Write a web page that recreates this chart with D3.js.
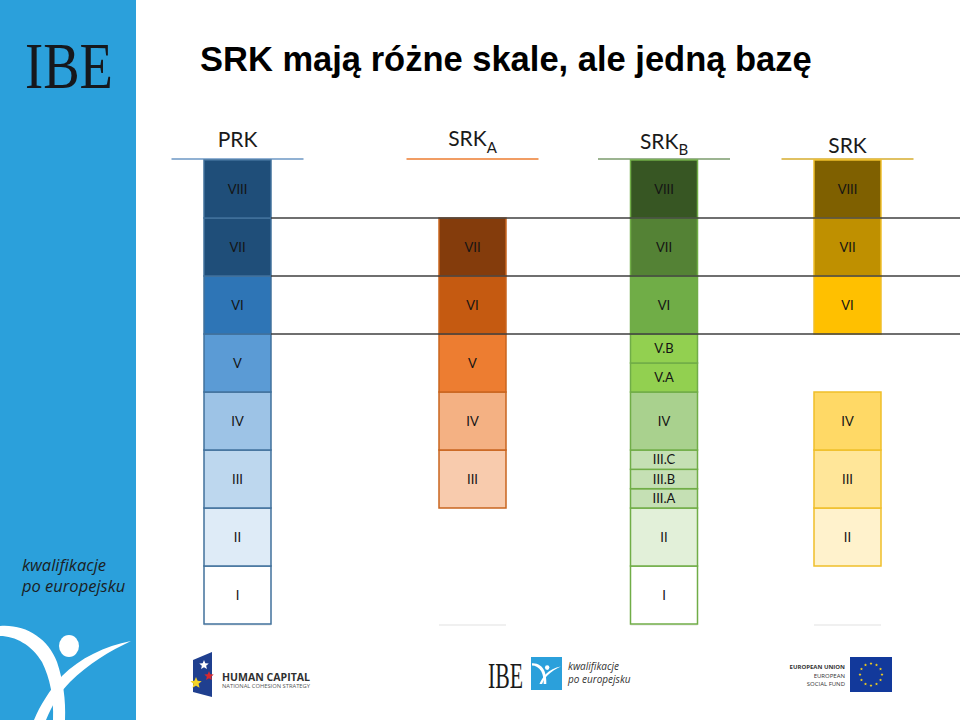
<!DOCTYPE html>
<html lang="pl">
<head>
<meta charset="UTF-8" />
<title>SRK mają różne skale, ale jedną bazę</title>
<script src="https://cdnjs.cloudflare.com/ajax/libs/d3/7.8.5/d3.min.js"></script>
<style>
  body { margin: 0; background: #fff; }
  svg { display: block; }
</style>
</head>
<body>
<div id="chart"></div>
<script>
// ---------------- data ----------------
var frameworks = ["PRK", "SRK_A", "SRK_B", "SRK"];
var headerMain = ["PRK", "SRK", "SRK", "SRK"];
var headerSub = ["", "A", "B", ""];

// each segment: label, lower level bound, upper level bound (level I = 0..1)
var prkLabels = ["I", "II", "III", "IV", "V", "VI", "VII", "VIII"];
var prkLow = [0, 1, 2, 3, 4, 5, 6, 7];
var prkHigh = [1, 2, 3, 4, 5, 6, 7, 8];

var srkALabels = ["III", "IV", "V", "VI", "VII"];
var srkALow = [2, 3, 4, 5, 6];
var srkAHigh = [3, 4, 5, 6, 7];

var srkBLabels = ["I", "II", "III.A", "III.B", "III.C", "IV", "V.A", "V.B", "VI", "VII", "VIII"];
var srkBLow = [0, 1, 2, 2.333, 2.667, 3, 4, 4.5, 5, 6, 7];
var srkBHigh = [1, 2, 2.333, 2.667, 3, 4, 4.5, 5, 6, 7, 8];

var srkLabels = ["II", "III", "IV", "VI", "VII", "VIII"];
var srkLow = [1, 2, 3, 5, 6, 7];
var srkHigh = [2, 3, 4, 6, 7, 8];

// level boundaries linked by horizontal lines
var linkLevels = [5, 6, 7];

// ---------------- styles ----------------
var fills = {
  PRK: { "I": "#ffffff", "II": "#deebf7", "III": "#bdd7ee", "IV": "#9dc3e6", "V": "#5b9bd5",
         "VI": "#2e75b6", "VII": "#1f4e79", "VIII": "#1f4e79" },
  SRK_A: { "III": "#f8cbad", "IV": "#f4b183", "V": "#ed7d31", "VI": "#c55a11", "VII": "#843c0c" },
  SRK_B: { "I": "#ffffff", "II": "#e2f0d9", "III.A": "#c5e0b4", "III.B": "#c5e0b4", "III.C": "#c5e0b4",
           "IV": "#a9d18e", "V.A": "#92d050", "V.B": "#92d050", "VI": "#70ad47", "VII": "#548235", "VIII": "#375623" },
  SRK: { "II": "#fff2cc", "III": "#ffe699", "IV": "#ffd966", "VI": "#ffc000", "VII": "#bf9000", "VIII": "#7f6000" }
};
var strokes = { PRK: "#41719c", SRK_A: "#c9651f", SRK_B: "#70ad47", SRK: "#efbf2a" };
var headerLines = { PRK: "#6d97c4", SRK_A: "#ed7d31", SRK_B: "#7b9b6c", SRK: "#d6ac2e" };
var headerBase = { PRK: [147, 0], SRK_A: [146, 153], SRK_B: [149, 155], SRK: [153, 0] };

var segments = {
  PRK: prkLabels.map(function(d, i) { return { label: d, lo: prkLow[i], hi: prkHigh[i] }; }),
  SRK_A: srkALabels.map(function(d, i) { return { label: d, lo: srkALow[i], hi: srkAHigh[i] }; }),
  SRK_B: srkBLabels.map(function(d, i) { return { label: d, lo: srkBLow[i], hi: srkBHigh[i] }; }),
  SRK: srkLabels.map(function(d, i) { return { label: d, lo: srkLow[i], hi: srkHigh[i] }; })
};

// ---------------- svg ----------------
var width = 960, height = 720;
var svg = d3.select("#chart").append("svg")
  .attr("width", width)
  .attr("height", height);

// scales
var y = d3.scaleLinear().domain([0, 8]).range([624, 160]);
var x = d3.scaleOrdinal().domain(frameworks).range([237.5, 472.5, 664, 847.5]);
var colW = 67, headW = 132;

// ---------------- left sidebar ----------------
var side = svg.append("g");
side.append("rect").attr("x", 0).attr("y", 0).attr("width", 136).attr("height", height).attr("fill", "#2ba0db");
side.append("text")
  .attr("x", 25).attr("y", 88)
  .attr("textLength", 88).attr("lengthAdjust", "spacingAndGlyphs")
  .style("font-family", "Liberation Serif, serif")
  .style("font-size", "66px")
  .style("fill", "#16181c")
  .text("IBE");
side.append("text")
  .attr("x", 22).attr("y", 571)
  .style("font-family", "Open Sans, sans-serif").style("font-style", "italic")
  .style("font-size", "16.5px").style("fill", "#1b1e24")
  .text("kwalifikacje");
side.append("text")
  .attr("x", 22).attr("y", 592)
  .style("font-family", "Open Sans, sans-serif").style("font-style", "italic")
  .style("font-size", "16.5px").style("fill", "#1b1e24")
  .text("po europejsku");

//white figure
function drawFigure(g) {
  g.append("path")
    .attr("d", "M0,626 C25,624 48,638 57,662 C63,680 66,700 65,720 L53,720 C54,698 50,678 42,662 C32,645 15,636 0,636 Z")
    .attr("fill", "#fff");
  g.append("path")
    .attr("d", "M131,641 C105,646 80,658 62,676 C50,690 40,705 34,720 L46,720 C52,705 60,692 70,682 C88,664 110,651 131,641 Z")
    .attr("fill", "#fff");
  g.append("ellipse").attr("cx", 69).attr("cy", 646).attr("rx", 10).attr("ry", 11).attr("fill", "#fff");
}
drawFigure(side.append("g"));

// ---------------- title ----------------
svg.append("text")
  .attr("x", 200).attr("y", 71)
  .style("font-family", "Liberation Sans, Arial, sans-serif")
  .style("font-weight", "bold")
  .style("font-size", "34.5px")
  .style("fill", "#000")
  .text("SRK mają różne skale, ale jedną bazę");

// ---------------- headers ----------------
var heads = svg.selectAll(".head").data(frameworks).enter().append("g").attr("class", "head");
heads.append("line")
  .attr("x1", function(d) { return x(d) - headW / 2; })
  .attr("x2", function(d) { return x(d) + headW / 2; })
  .attr("y1", 159).attr("y2", 159)
  .attr("stroke", function(d) { return headerLines[d]; })
  .attr("stroke-width", 1.5);
var ht = heads.append("text")
  .attr("x", function(d) { return x(d); })
  .attr("y", function(d) { return headerBase[d][0]; })
  .attr("text-anchor", "middle")
  .style("font-family", "Lato, sans-serif")
  .style("font-size", "21px")
  .style("fill", "#1a1a1a");
ht.append("tspan").text(function(d, i) { return headerMain[i]; });
ht.append("tspan")
  .attr("dy", function(d) { return headerBase[d][1] ? headerBase[d][1] - headerBase[d][0] : 0; })
  .style("font-size", "15px")
  .text(function(d, i) { return headerSub[i]; });

// ---------------- columns ----------------
frameworks.forEach(function(f) {
  var g = svg.append("g").attr("class", "col");
  // faint base line under the columns
  g.append("line")
    .attr("x1", x(f) - colW / 2).attr("x2", x(f) + colW / 2)
    .attr("y1", y(0) + 1).attr("y2", y(0) + 1)
    .attr("stroke", "#f0f0f0").attr("stroke-width", 2);
  var seg = g.selectAll(".seg").data(segments[f]).enter().append("g").attr("class", "seg");
  seg.append("rect")
    .attr("x", x(f) - colW / 2)
    .attr("width", colW)
    .attr("y", function(d) { return y(d.hi); })
    .attr("height", function(d) { return y(d.lo) - y(d.hi); })
    .attr("fill", function(d) { return fills[f][d.label]; })
    .attr("stroke", strokes[f])
    .attr("stroke-width", 1.5);
  seg.append("text")
    .attr("x", x(f))
    .attr("y", function(d) { return (y(d.lo) + y(d.hi)) / 2; })
    .attr("dy", "0.36em")
    .attr("text-anchor", "middle")
    .style("font-family", "Lato, sans-serif")
    .style("font-size", "13px")
    .style("fill", "#141414")
    .text(function(d) { return d.label; });
});

// ---------------- linking lines ----------------
svg.selectAll(".link").data(linkLevels).enter().append("line")
  .attr("class", "link")
  .attr("x1", x("PRK") + colW / 2).attr("x2", width)
  .attr("y1", function(d) { return y(d); })
  .attr("y2", function(d) { return y(d); })
  .attr("stroke", "#3f3f3f")
  .attr("stroke-width", 1.6);

// ---------------- footer logos ----------------
var foot = svg.append("g");
// human capital
foot.append("path").attr("d", "M193,660 L212,652 L212,697 L193,692 Z").attr("fill", "#1f3f8f");
function star(cx, cy, r) {
  var pts = d3.range(10).map(function(i) {
    var a = -Math.PI / 2 + i * Math.PI / 5, rr = i % 2 ? r * 0.45 : r;
    return [cx + rr * Math.cos(a), cy + rr * Math.sin(a)];
  });
  return "M" + pts.join("L") + "Z";
}
foot.append("path").attr("d", star(204, 665, 5)).attr("fill", "#fff");
foot.append("path").attr("d", star(209, 676, 5)).attr("fill", "#d7282f");
foot.append("path").attr("d", star(196, 683, 6)).attr("fill", "#f5d327");
foot.append("text").attr("x", 222).attr("y", 681)
  .style("font-family", "Open Sans, sans-serif").style("font-weight", "bold")
  .style("font-size", "10.5px").style("fill", "#2f3030")
  .attr("textLength", 88).attr("lengthAdjust", "spacingAndGlyphs")
  .text("HUMAN CAPITAL");
foot.append("text").attr("x", 222).attr("y", 688)
  .style("font-family", "Open Sans, sans-serif")
  .style("font-size", "5px").style("fill", "#555")
  .attr("textLength", 88).attr("lengthAdjust", "spacingAndGlyphs")
  .text("NATIONAL COHESION STRATEGY");

// IBE center logo
foot.append("text").attr("x", 488).attr("y", 688)
  .attr("textLength", 35).attr("lengthAdjust", "spacingAndGlyphs")
  .style("font-family", "Liberation Serif, serif")
  .style("font-size", "35px").style("fill", "#1a1a1a")
  .text("IBE");
foot.append("rect").attr("x", 531).attr("y", 657).attr("width", 31).attr("height", 33).attr("fill", "#2ba0db");
drawFigure(foot.append("g").attr("transform", "translate(532,663) scale(0.22) translate(0,-625)"));
foot.append("text").attr("x", 568).attr("y", 670)
  .style("font-family", "Open Sans, sans-serif").style("font-style", "italic")
  .style("font-size", "10px").style("fill", "#333")
  .text("kwalifikacje");
foot.append("text").attr("x", 568).attr("y", 683)
  .style("font-family", "Open Sans, sans-serif").style("font-style", "italic")
  .style("font-size", "10px").style("fill", "#333")
  .text("po europejsku");

// EU logo
var euText = ["EUROPEAN UNION", "EUROPEAN", "SOCIAL FUND"];
foot.selectAll(".eu").data(euText).enter().append("text")
  .attr("class", "eu")
  .attr("x", 845)
  .attr("y", function(d, i) { return 669 + i * 8.5; })
  .attr("text-anchor", "end")
  .style("font-family", "Open Sans, sans-serif")
  .style("font-weight", function(d, i) { return i === 0 ? "bold" : "normal"; })
  .style("font-size", "6px").style("fill", "#333")
  .text(function(d) { return d; });
foot.append("rect").attr("x", 850).attr("y", 657).attr("width", 42).attr("height", 35).attr("fill", "#12399b");
foot.selectAll(".eustar").data(d3.range(12)).enter().append("path")
  .attr("class", "eustar")
  .attr("d", function(i) {
    var a = i * Math.PI / 6;
    return star(871 + 11 * Math.cos(a), 674.5 + 11 * Math.sin(a), 1.6);
  })
  .attr("fill", "#ffd617");
</script>
</body>
</html>
